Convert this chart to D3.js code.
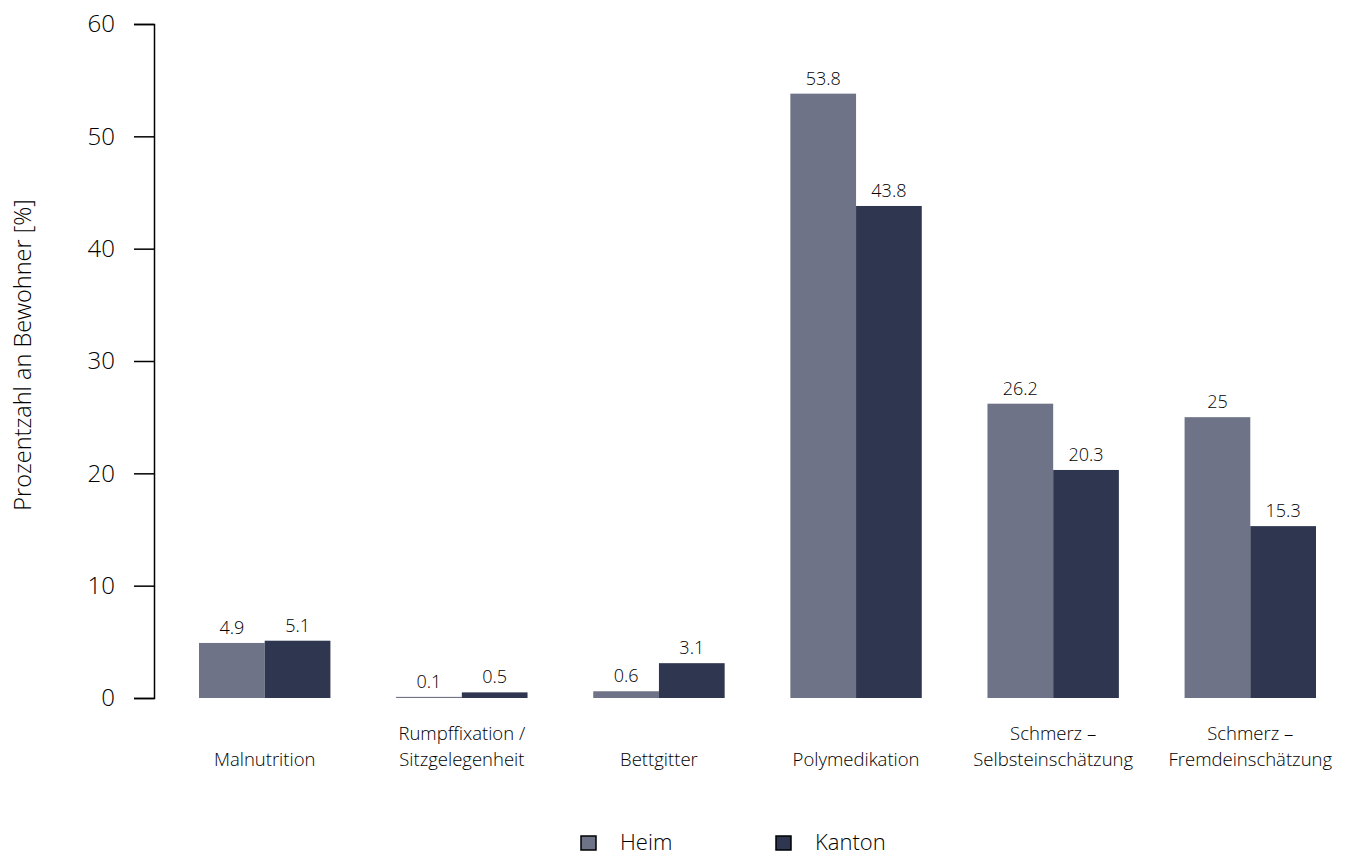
<!DOCTYPE html>
<html>
<head>
<meta charset="utf-8">
<script src="https://cdn.jsdelivr.net/npm/d3@7.9.0/dist/d3.min.js"></script>
<style>
  body { margin: 0; background: #fff; }
  svg { display: block; font-family: "Open Sans", "Noto Sans", sans-serif; font-weight: 300; }
</style>
</head>
<body>
<svg id="chart" width="1347" height="856"></svg>
<script>
// data
const categories = [
    ["Malnutrition"],
    ["Rumpffixation /", "Sitzgelegenheit"],
    ["Bettgitter"],
    ["Polymedikation"],
    ["Schmerz –", "Selbsteinschätzung"],
    ["Schmerz –", "Fremdeinschätzung"]
];
const seriesNames = ["Heim", "Kanton"];
const heimValues = [4.9, 0.1, 0.6, 53.8, 26.2, 25];
const kantonValues = [5.1, 0.5, 3.1, 43.8, 20.3, 15.3];
const yTicks = [0, 10, 20, 30, 40, 50, 60];
const colors = ["#6e7387", "#2e374f"];

const svg = d3.select("#chart");

const y = d3.scaleLinear().domain([0, 60]).range([698, 24]);

const x = d3.scaleBand()
    .domain(d3.range(categories.length))
    .range([199, 1316])
    .paddingInner(1 / 3)
    .paddingOuter(0);

const xSub = d3.scaleBand()
    .domain(seriesNames)
    .range([0, x.bandwidth()]);

// y axis
const yAxis = svg.append("g")
    .attr("transform", "translate(154,0)")
    .call(d3.axisLeft(y).tickValues(yTicks).tickSize(20).tickPadding(19));

yAxis.select(".domain").attr("stroke", "#000").attr("stroke-width", 1.5);
yAxis.selectAll(".tick line").attr("stroke", "#000").attr("stroke-width", 1.5);
yAxis.selectAll(".tick text")
    .attr("fill", "#000")
    .style("font-size", "24px")
    .style("font-family", "'Open Sans', sans-serif")
    .style("font-weight", 300);

svg.append("text")
    .attr("transform", "translate(31,355) rotate(-90)")
    .attr("text-anchor", "middle")
    .attr("fill", "#000")
    .style("font-size", "23.5px")
    .text("Prozentzahl an Bewohner [%]");

// bars
const rows = categories.map((c, i) => ({
    i,
    values: [heimValues[i], kantonValues[i]]
}));

const groups = svg.append("g")
    .selectAll("g")
    .data(rows)
    .join("g")
    .attr("transform", d => `translate(${x(d.i)},0)`);

groups.selectAll("rect")
    .data(d => d.values.map((v, k) => ({ v, name: seriesNames[k], k })))
    .join("rect")
    .attr("x", d => xSub(d.name))
    .attr("width", xSub.bandwidth())
    .attr("y", d => y(d.v))
    .attr("height", d => y(0) - y(d.v))
    .attr("fill", d => colors[d.k]);

groups.selectAll("text.val")
    .data(d => d.values.map((v, k) => ({ v, name: seriesNames[k] })))
    .join("text")
    .attr("class", "val")
    .attr("x", d => xSub(d.name) + xSub.bandwidth() / 2)
    .attr("y", d => y(d.v) - 9)
    .attr("text-anchor", "middle")
    .attr("fill", "#000")
    .style("font-size", "18px")
    .text(d => d.v);

// category labels
groups.each(function (d) {
    const lines = categories[d.i];
    const t = d3.select(this).append("text")
        .attr("text-anchor", "middle")
        .attr("fill", "#000")
        .style("font-size", "18.5px");
    lines.forEach((line, j) => {
        t.append("tspan")
            .attr("x", x.bandwidth() / 2)
            .attr("y", 766 - (lines.length - 1 - j) * 26)
            .text(line);
    });
});

// legend
const legendX = [581, 776];
const legend = svg.append("g")
    .selectAll("g")
    .data(seriesNames)
    .join("g")
    .attr("transform", (d, i) => `translate(${legendX[i]},836)`);

legend.append("rect")
    .attr("width", 15)
    .attr("height", 14)
    .attr("fill", (d, i) => colors[i])
    .attr("stroke", "#000")
    .attr("stroke-width", 1.5);

legend.append("text")
    .attr("x", 39)
    .attr("y", 14)
    .attr("fill", "#000")
    .style("font-size", "22px")
    .text(d => d);
</script>
</body>
</html>
